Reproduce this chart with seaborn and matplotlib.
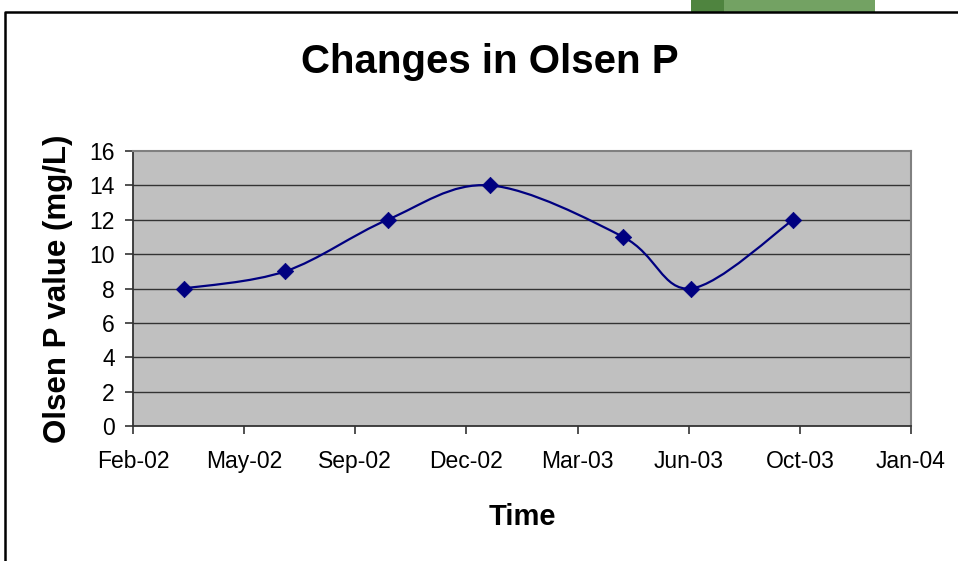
import numpy as np
import pandas as pd
import matplotlib
matplotlib.use("Agg")
import matplotlib.pyplot as plt
import matplotlib.dates as mdates
from matplotlib.path import Path
from matplotlib.patches import PathPatch, Rectangle
from matplotlib.lines import Line2D
import seaborn as sns

# data
sample_dates = ["2002-04-01", "2002-07-01", "2002-10-01", "2003-01-01",
                "2003-05-01", "2003-07-01", "2003-10-01"]
olsen_p = [8, 9, 12, 14, 11, 8, 12]
axis_start = "2002-02-14"   # excel date axis, 100 day major unit
axis_days = 700
y_ticks = [0, 2, 4, 6, 8, 10, 12, 14, 16]

data = pd.DataFrame({"date": pd.to_datetime(sample_dates), "olsen_p": olsen_p})

sns.set_style("white")
plt.rcParams["font.family"] = ["Liberation Sans", "DejaVu Sans"]
plt.rcParams["text.color"] = "black"
plt.rcParams["axes.labelcolor"] = "black"

W, H = 958, 561
fig = plt.figure(figsize=(W / 100, H / 100), dpi=100)
fig.patch.set_facecolor("white")
ax = fig.add_axes([133 / W, 1 - 426 / H, (911 - 133) / W, (426 - 151) / H])
ax.set_facecolor("#c0c0c0")

# smoothed line (excel style, catmull-rom bezier through the points)
xs = mdates.date2num(data["date"])
ys = data["olsen_p"].to_numpy(dtype=float)
pts = np.column_stack([xs, ys])
verts = [pts[0]]
codes = [Path.MOVETO]
n = len(pts)
for i in range(n - 1):
    p0 = pts[max(i - 1, 0)]
    p1 = pts[i]
    p2 = pts[i + 1]
    p3 = pts[min(i + 2, n - 1)]
    verts += [p1 + (p2 - p0) / 6, p2 - (p3 - p1) / 6, p2]
    codes += [Path.CURVE4] * 3
ax.add_patch(PathPatch(Path(verts, codes), facecolor="none",
                       edgecolor="#000080", lw=1.6, zorder=3))

sns.scatterplot(data=data, x="date", y="olsen_p", marker="D", s=70,
                color="#000080", edgecolor="#000080", linewidth=0.5,
                ax=ax, zorder=4, legend=False)

x0 = mdates.date2num(pd.Timestamp(axis_start))
ax.set_xlim(x0, x0 + axis_days)
ax.set_xticks(np.arange(x0, x0 + axis_days + 1, 100))
ax.xaxis.set_major_formatter(mdates.DateFormatter("%b-%y"))
ax.set_ylim(0, 16)
ax.set_yticks(y_ticks)

for yv in y_ticks[1:-1]:
    ax.axhline(yv, color="#333333", lw=1.0, zorder=1)

for side in ["left", "bottom"]:
    ax.spines[side].set_color("#333333")
    ax.spines[side].set_linewidth(1.3)
for side in ["top", "right"]:
    ax.spines[side].set_color("#808080")
    ax.spines[side].set_linewidth(1.5)

ax.tick_params(axis="both", direction="out", length=6, width=1.2,
               color="#333333", labelsize=16.5, labelcolor="black",
               bottom=True, left=True)
ax.tick_params(axis="x", pad=11)
ax.tick_params(axis="y", pad=7)

ax.set_xlabel("Time", fontsize=21, fontweight="bold", labelpad=22)
ax.set_ylabel("Olsen P value (mg/L)", fontsize=22.5, fontweight="bold", labelpad=12)

fig.text(490 / W, 1 - 62 / H, "Changes in Olsen P", fontsize=29,
         fontweight="bold", ha="center", va="center")

# slide bits around the chart
fig.add_artist(Rectangle((691 / W, 1 - 12 / H), 33 / W, 12 / H,
                         transform=fig.transFigure, color="#4f843f", lw=0))
fig.add_artist(Rectangle((724 / W, 1 - 12 / H), 151 / W, 12 / H,
                         transform=fig.transFigure, color="#73a263", lw=0))
fig.add_artist(Line2D([5 / W, 5 / W, 1], [0, 1 - 12 / H, 1 - 12 / H],
                      transform=fig.transFigure, color="black", lw=1.8))

fig.savefig("out.png", dpi=100)
